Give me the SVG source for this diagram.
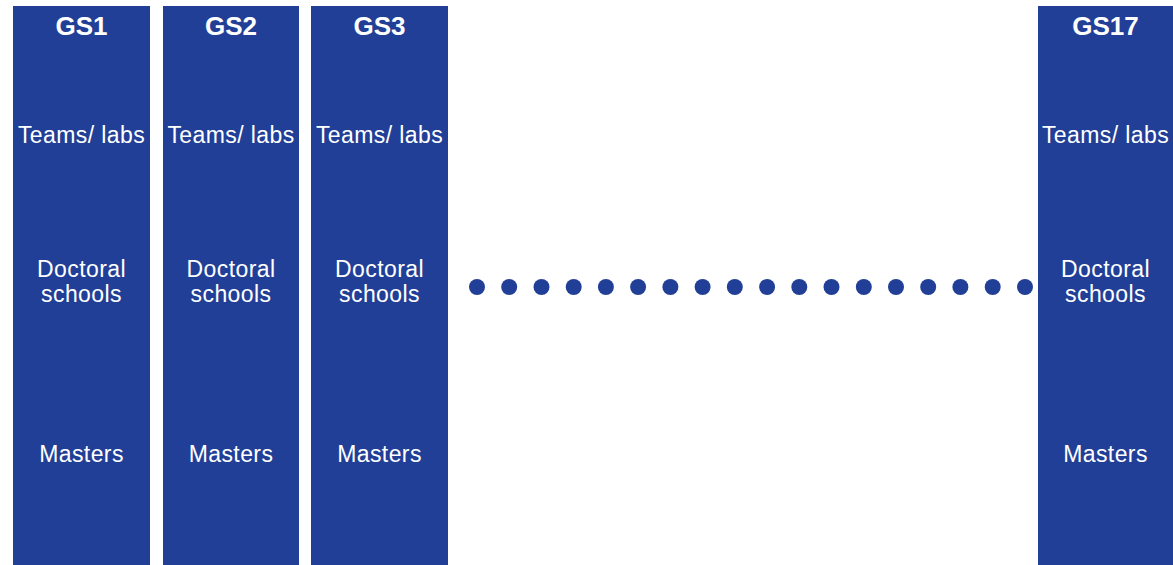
<svg xmlns="http://www.w3.org/2000/svg" width="1173" height="565" viewBox="0 0 1173 565">
<style>
.col{fill:#213F97}
.t{font-family:"Liberation Sans",Arial,sans-serif;fill:#fff;text-anchor:middle;font-size:23px;letter-spacing:0.4px}
.h{font-family:"Liberation Sans",Arial,sans-serif;fill:#fff;text-anchor:middle;font-size:26px;font-weight:bold}
.dot{fill:#213F97}
</style>
<rect width="1173" height="565" fill="#fff"/>
<g id="gs1">
<rect class="col" x="13" y="6" width="137" height="559"/>
<text class="h" x="81.5" y="35">GS1</text>
<text class="t" x="81.5" y="143">Teams/ labs</text>
<text class="t" x="81.5" y="277">Doctoral</text>
<text class="t" x="81.5" y="302">schools</text>
<text class="t" x="81.5" y="462">Masters</text>
</g>
<g id="gs2">
<rect class="col" x="163" y="6" width="136" height="559"/>
<text class="h" x="231" y="35">GS2</text>
<text class="t" x="231" y="143">Teams/ labs</text>
<text class="t" x="231" y="277">Doctoral</text>
<text class="t" x="231" y="302">schools</text>
<text class="t" x="231" y="462">Masters</text>
</g>
<g id="gs3">
<rect class="col" x="311" y="6" width="137" height="559"/>
<text class="h" x="379.5" y="35">GS3</text>
<text class="t" x="379.5" y="143">Teams/ labs</text>
<text class="t" x="379.5" y="277">Doctoral</text>
<text class="t" x="379.5" y="302">schools</text>
<text class="t" x="379.5" y="462">Masters</text>
</g>
<g id="gs17">
<rect class="col" x="1038" y="6" width="135" height="559"/>
<text class="h" x="1105.5" y="35">GS17</text>
<text class="t" x="1105.5" y="143">Teams/ labs</text>
<text class="t" x="1105.5" y="277">Doctoral</text>
<text class="t" x="1105.5" y="302">schools</text>
<text class="t" x="1105.5" y="462">Masters</text>
</g>
<g id="connectors">
<circle class="dot" cx="477" cy="287" r="8"/>
<circle class="dot" cx="509.2" cy="287" r="8"/>
<circle class="dot" cx="541.5" cy="287" r="8"/>
<circle class="dot" cx="573.7" cy="287" r="8"/>
<circle class="dot" cx="605.9" cy="287" r="8"/>
<circle class="dot" cx="638.1" cy="287" r="8"/>
<circle class="dot" cx="670.4" cy="287" r="8"/>
<circle class="dot" cx="702.6" cy="287" r="8"/>
<circle class="dot" cx="734.8" cy="287" r="8"/>
<circle class="dot" cx="767.1" cy="287" r="8"/>
<circle class="dot" cx="799.3" cy="287" r="8"/>
<circle class="dot" cx="831.5" cy="287" r="8"/>
<circle class="dot" cx="863.8" cy="287" r="8"/>
<circle class="dot" cx="896" cy="287" r="8"/>
<circle class="dot" cx="928.2" cy="287" r="8"/>
<circle class="dot" cx="960.4" cy="287" r="8"/>
<circle class="dot" cx="992.7" cy="287" r="8"/>
<circle class="dot" cx="1025" cy="287" r="8"/>
</g>
</svg>
